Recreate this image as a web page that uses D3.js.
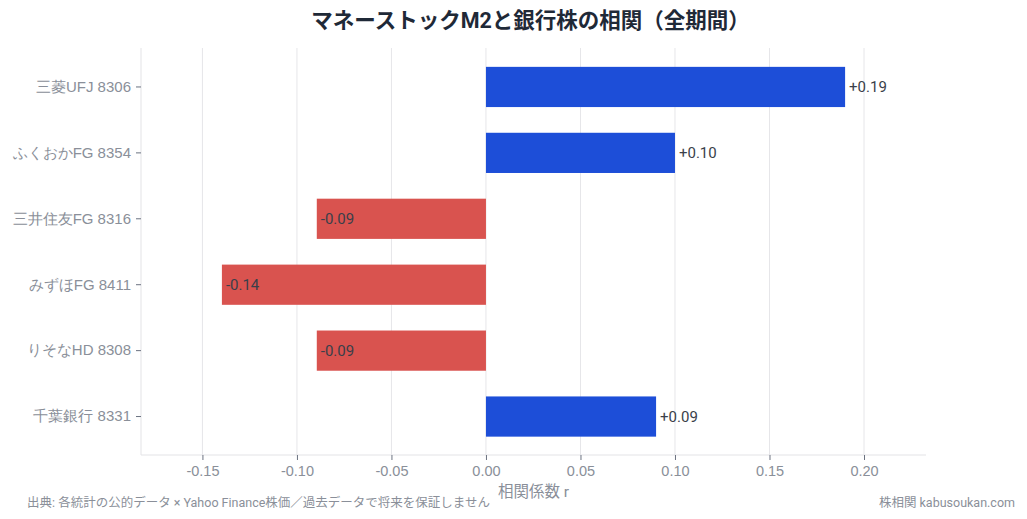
<!DOCTYPE html>
<html>
<head>
<meta charset="utf-8">
<script src="https://cdn.jsdelivr.net/npm/d3@7"></script>
<style>
  body { margin: 0; background: #fff; }
  svg { display: block; font-family: Roboto, "Noto Sans CJK JP", sans-serif; }
</style>
</head>
<body>
<figure id="corr-bar" style="margin:0"></figure>
<script>
const banks = ['三菱UFJ 8306', 'ふくおかFG 8354', '三井住友FG 8316', 'みずほFG 8411', 'りそなHD 8308', '千葉銀行 8331'];
const corr = [0.19, 0.10, -0.0895, -0.1397, -0.0895, 0.09];
const corrLabels = ['+0.19', '+0.10', '-0.09', '-0.14', '-0.09', '+0.09'];
const xTicks = [-0.15, -0.10, -0.05, 0, 0.05, 0.10, 0.15, 0.20];

const width = 1027, height = 519;
const margin = { top: 48, right: 101, bottom: 64, left: 141 };
const innerW = width - margin.left - margin.right;
const innerH = height - margin.top - margin.bottom;

const svg = d3.select('figure#corr-bar')
  .append('svg')
  .attr('width', width)
  .attr('height', height);

const g = svg.append('g')
  .attr('transform', `translate(${margin.left},${margin.top})`);

const x = d3.scaleLinear()
  .domain([-0.1825, 0.2328])
  .range([0, innerW]);

const y = d3.scaleBand()
  .domain(banks)
  .range([6, innerH - 5.5])
  .paddingInner(0.39)
  .paddingOuter(0.195);

// grid
g.selectAll('line.grid')
  .data(xTicks)
  .enter()
  .append('line')
  .attr('class', 'grid')
  .attr('x1', d => x(d)).attr('x2', d => x(d))
  .attr('y1', 0).attr('y2', innerH)
  .attr('stroke', '#e6e6e9')
  .attr('stroke-width', 1);

// frame lines
g.append('line')
  .attr('x1', 0).attr('x2', 0).attr('y1', 0).attr('y2', innerH)
  .attr('stroke', '#e3e3e6');
g.append('line')
  .attr('x1', 0).attr('x2', innerW).attr('y1', innerH).attr('y2', innerH)
  .attr('stroke', '#e3e3e6');

// bars
g.selectAll('rect.bar')
  .data(banks)
  .enter()
  .append('rect')
  .attr('class', 'bar')
  .attr('x', (d, i) => x(Math.min(0, corr[i])))
  .attr('y', d => y(d))
  .attr('width', (d, i) => Math.abs(x(corr[i]) - x(0)))
  .attr('height', y.bandwidth())
  .attr('fill', (d, i) => corr[i] >= 0 ? '#1d4ed8' : '#d9534f');

// value labels
g.selectAll('text.val')
  .data(banks)
  .enter()
  .append('text')
  .attr('class', 'val')
  .attr('x', (d, i) => x(corr[i]) + 4)
  .attr('y', d => y(d) + y.bandwidth() / 2)
  .attr('dy', '0.35em')
  .attr('font-size', 15)
  .attr('fill', '#3a3f4a')
  .text((d, i) => corrLabels[i]);

// axes
const xAxis = g.append('g')
  .attr('transform', `translate(0,${innerH})`)
  .call(d3.axisBottom(x).tickValues(xTicks).tickSize(5).tickPadding(6)
    .tickFormat(d => d3.format('.2f')(d).replace('−', '-')));
xAxis.select('.domain').remove();
xAxis.selectAll('line').attr('stroke', '#6b7280');
xAxis.selectAll('text').attr('fill', '#8a8f99').attr('font-size', 14.5);

const yAxis = g.append('g')
  .call(d3.axisLeft(y).tickSize(5).tickPadding(5));
yAxis.select('.domain').remove();
yAxis.selectAll('line').attr('stroke', '#6b7280');
yAxis.selectAll('text').attr('fill', '#8a8f99').attr('font-size', 15);

// title
svg.append('text')
  .attr('x', margin.left + innerW / 2 - 3)
  .attr('y', 28)
  .attr('text-anchor', 'middle')
  .attr('font-size', 21.5)
  .attr('font-weight', 'bold')
  .attr('fill', '#1f2937')
  .text('マネーストックM2と銀行株の相関（全期間）');

// axis title
svg.append('text')
  .attr('x', margin.left + innerW / 2)
  .attr('y', 497)
  .attr('text-anchor', 'middle')
  .attr('font-size', 15.5)
  .attr('fill', '#8a8f99')
  .text('相関係数 r');

// footers
svg.append('text')
  .attr('x', 27)
  .attr('y', 507)
  .attr('font-size', 12.5)
  .attr('fill', '#8a8f99')
  .text('出典: 各統計の公的データ × Yahoo Finance株価／過去データで将来を保証しません');

svg.append('text')
  .attr('x', 1015)
  .attr('y', 507)
  .attr('text-anchor', 'end')
  .attr('font-size', 12.5)
  .attr('fill', '#8a8f99')
  .text('株相関 kabusoukan.com');
</script>
</body>
</html>
